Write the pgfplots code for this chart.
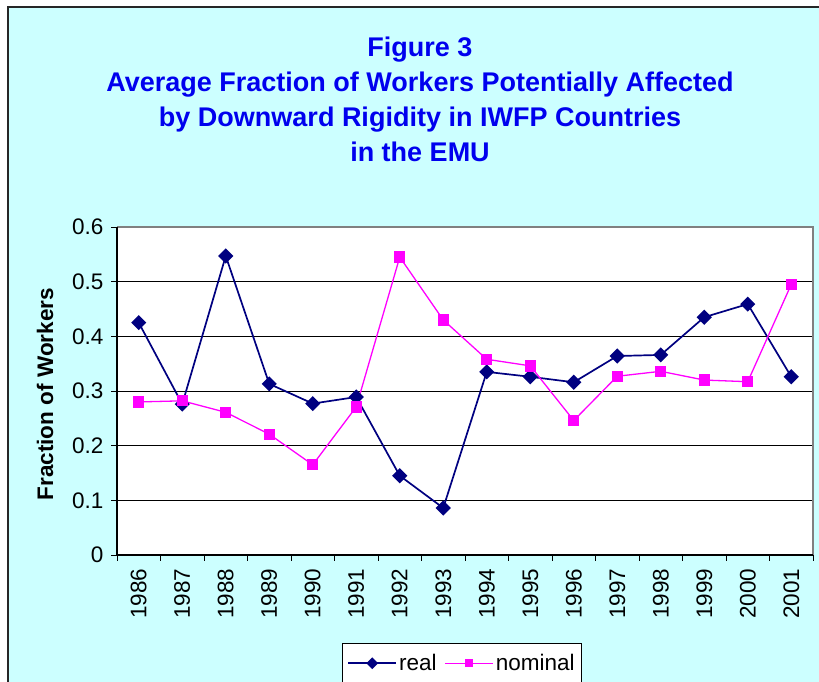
\documentclass[border=0pt]{standalone}
\usepackage{pgfplots}
\pgfplotsset{compat=1.18}
\usepackage{fontspec}
\setmainfont{Liberation Sans}
\definecolor{bgcyan}{HTML}{CCFFFF}
\definecolor{navyc}{HTML}{000080}
\definecolor{magc}{HTML}{FF00FF}
\definecolor{titleblue}{HTML}{0000EE}
\begin{document}
\begin{tikzpicture}
\useasboundingbox (0pt,0pt) rectangle (819pt,682pt);
\clip (0pt,0pt) rectangle (819pt,682pt);
\fill[white] (0pt,0pt) rectangle (819pt,682pt);
\filldraw[fill=bgcyan, draw=black!85, line width=1.5pt] (8pt,675pt) rectangle (840pt,-20pt);
\node[align=center, text=titleblue, font=\fontsize{27}{35}\selectfont\bfseries] at (420pt,582.5pt) {Figure 3\\Average Fraction of Workers Potentially Affected\\by Downward Rigidity in IWFP Countries\\in the EMU};
\begin{axis}[
  at={(117pt,127pt)}, anchor=south west,
  scale only axis, width=696pt, height=328pt,
  xmin=-0.5, xmax=15.5, ymin=0, ymax=0.6,
  clip=false,
  xtick={-0.5,0.5,1.5,2.5,3.5,4.5,5.5,6.5,7.5,8.5,9.5,10.5,11.5,12.5,13.5,14.5,15.5},
  x tick label as interval,
  xticklabels={1986,1987,1988,1989,1990,1991,1992,1993,1994,1995,1996,1997,1998,1999,2000,2001},
  ytick={0,0.1,0.2,0.3,0.4,0.5,0.6},
  /pgf/number format/assume math mode=true,
  tick label style={font=\fontsize{22.5}{26}\selectfont},
  x tick label style={rotate=90, anchor=east},
  xticklabel shift=4pt,
  yticklabel shift=4pt,
  tick align=outside, tick pos=left,
  major tick length=6pt,
  tick style={black, line width=0.8pt},
  ymajorgrids, major grid style={black, line width=0.8pt},
  axis line style={draw=none},
  axis background/.style={fill=white},
  ylabel={Fraction of Workers},
  ylabel style={at={(axis description cs:-0.1034,0.49)}, anchor=center, font=\fontsize{22.5}{26}\selectfont\bfseries},
  legend style={at={(0.3233,-0.2683)}, anchor=north west, draw=black, line width=0.8pt, fill=white,
    font=\fontsize{22.5}{26}\selectfont, legend columns=2, inner xsep=5pt, inner ysep=9pt,
    /tikz/every even column/.append style={column sep=6pt}},
  legend image code/.code={\draw[mark repeat=2,mark phase=2,#1] plot coordinates {(0pt,0pt) (24pt,0pt) (48pt,0pt)};},
  legend image post style={mark size=3.3pt},
]
\addplot[navyc, line width=1.7pt, mark=square*, mark size=4.5pt, mark options={rotate=45, solid, fill=navyc}] coordinates {
(0,0.425) (1,0.276) (2,0.547) (3,0.313) (4,0.277) (5,0.289) (6,0.145) (7,0.086)
(8,0.335) (9,0.326) (10,0.316) (11,0.364) (12,0.366) (13,0.435) (14,0.459) (15,0.326)};
\addlegendentry{real}
\addplot[magc, line width=1.3pt, mark=square*, mark size=5pt, mark options={solid, fill=magc}] coordinates {
(0,0.280) (1,0.282) (2,0.261) (3,0.221) (4,0.165) (5,0.271) (6,0.545) (7,0.430)
(8,0.358) (9,0.346) (10,0.246) (11,0.327) (12,0.336) (13,0.320) (14,0.317) (15,0.495)};
\addlegendentry{nominal}
\draw[gray, line width=1.2pt] (rel axis cs:0,1) -- (rel axis cs:1,1) -- (rel axis cs:1,0);
\draw[black, line width=1.2pt] (rel axis cs:0,1) -- (rel axis cs:0,0) -- (rel axis cs:1,0);
\end{axis}
\end{tikzpicture}
\end{document}
